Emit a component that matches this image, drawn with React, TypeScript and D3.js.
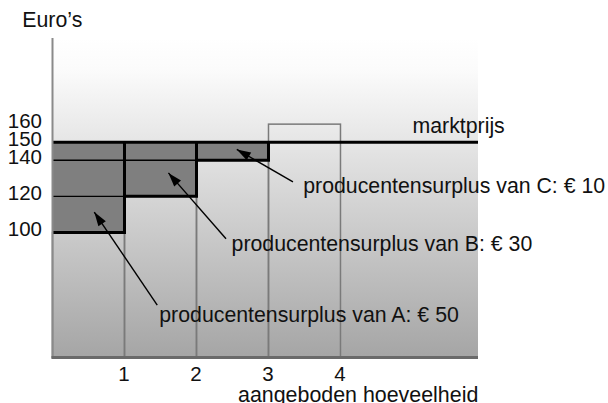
import React from "react";
import * as d3 from "d3";

// ---- data ----
const producers = ["A", "B", "C", "D"];
const costs = [100, 120, 140, 160];
const marketPrice = 150;
const yTicks = [100, 120, 140, 150, 160];
const xTicks = [1, 2, 3, 4];
const xDomain = [0, 5.91];
const yDomain = [30.5, 207.7];
// annotation anchors in data coordinates (quantity, euro)
const arrowTips = [
  [0.58, 111.3],
  [1.61, 133.0],
  [2.56, 146.0],
];
const arrowTails = [
  [1.455, 59.8],
  [2.41, 96.5],
  [3.34, 128.0],
];
const labelPos = [
  [1.483, 50.3],
  [2.487, 89.9],
  [3.483, 122.0],
];
const marketLabelPos = [5.0, 155.0];

const W = 608;
const H = 403;
const FONT = "'Liberation Sans', Arial, Helvetica, sans-serif";

export default function App() {
  const x = d3.scaleLinear().domain(xDomain).range([52.5, 478]);
  const y = d3.scaleLinear().domain(yDomain).range([358, 38]);
  const x0 = x(xDomain[0]);
  const x1 = x(xDomain[1]);
  const yBottom = y(yDomain[0]);
  const yTop = y(yDomain[1]);

  const surplusIdx = costs.map((c, i) => i).filter((i) => costs[i] < marketPrice);

  const arrowHead = (tip: number[], tail: number[]) => {
    const tx = x(tip[0]), ty = y(tip[1]);
    const sx = x(tail[0]), sy = y(tail[1]);
    const dx = sx - tx, dy = sy - ty;
    const len = Math.hypot(dx, dy);
    const ux = dx / len, uy = dy / len;
    const L = 14, Wd = 4.5;
    const bx = tx + ux * L, by = ty + uy * L;
    const px = -uy, py = ux;
    return `M${tx},${ty}L${bx + px * Wd},${by + py * Wd}L${bx - px * Wd},${by - py * Wd}Z`;
  };

  return (
    <svg width={W} height={H} style={{ position: "absolute", left: 0, top: 0 }} fontFamily={FONT}>
      <defs>
        <linearGradient id="bg" x1="0" y1="0" x2="0" y2="1">
          <stop offset="0" stopColor="#ffffff" />
          <stop offset="0.1" stopColor="#fbfbfb" />
          <stop offset="0.32" stopColor="#e6e6e6" />
          <stop offset="1" stopColor="#a5a5a5" />
        </linearGradient>
      </defs>
      <rect x={0} y={0} width={W} height={H} fill="#fff" />
      <rect x={x0} y={yTop} width={x1 - x0} height={yBottom - yTop} fill="url(#bg)" />

      {/* surplus areas */}
      {surplusIdx.map((i) => (
        <rect
          key={"s" + i}
          x={x(i)}
          y={y(marketPrice)}
          width={x(i + 1) - x(i)}
          height={y(costs[i]) - y(marketPrice)}
          fill="#7f7f7f"
        />
      ))}

      {/* supply bars outline (gray) */}
      {costs.map((c, i) => (
        <rect
          key={"b" + i}
          x={x(i)}
          y={y(c)}
          width={x(i + 1) - x(i)}
          height={yBottom - y(c)}
          fill="none"
          stroke="#7a7a7a"
          strokeWidth={1.5}
        />
      ))}

      {/* thin cost lines back to axis */}
      {surplusIdx
        .filter((i) => i > 0)
        .map((i) => (
          <line
            key={"t" + i}
            x1={x0}
            x2={x(i)}
            y1={y(costs[i])}
            y2={y(costs[i])}
            stroke="#000"
            strokeWidth={1.3}
          />
        ))}

      {/* thick supply steps */}
      {surplusIdx.map((i) => (
        <path
          key={"p" + i}
          d={`M${x(i)},${y(costs[i])}H${x(i + 1)}V${y(marketPrice)}`}
          fill="none"
          stroke="#000"
          strokeWidth={3}
        />
      ))}

      {/* market price line */}
      <line x1={x0} x2={x1} y1={y(marketPrice)} y2={y(marketPrice)} stroke="#000" strokeWidth={3} />

      {/* axes */}
      <line x1={x0} x2={x0} y1={yTop} y2={yBottom} stroke="#8a8a8a" strokeWidth={2} />
      <line x1={x0 - 1} x2={x1} y1={yBottom - 0.5} y2={yBottom - 0.5} stroke="#6a6a6a" strokeWidth={3} />

      {/* y tick labels */}
      {yTicks.map((t) => (
        <text key={"yt" + t} x={42} y={y(t) + 4} textAnchor="end" fontSize={20.5} fill="#111">
          {t}
        </text>
      ))}

      {/* x tick labels */}
      {xTicks.map((t) => (
        <text key={"xt" + t} x={x(t) - 0.5} y={381} textAnchor="middle" fontSize={20.5} fill="#111">
          {t}
        </text>
      ))}

      <text x={22.3} y={26.5} fontSize={21.3} fill="#111">Euro’s</text>
      <text x={238} y={401.5} fontSize={21.4} fill="#111">aangeboden hoeveelheid</text>

      {/* annotations */}
      {surplusIdx.map((i) => (
        <g key={"a" + i}>
          <line
            x1={x(arrowTails[i][0])}
            y1={y(arrowTails[i][1])}
            x2={x(arrowTips[i][0])}
            y2={y(arrowTips[i][1])}
            stroke="#000"
            strokeWidth={1.4}
          />
          <path d={arrowHead(arrowTips[i], arrowTails[i])} fill="#000" />
          <text x={x(labelPos[i][0])} y={y(labelPos[i][1])} fontSize={21.3} fill="#111">
            {`producentensurplus van ${producers[i]}: € ${marketPrice - costs[i]}`}
          </text>
        </g>
      ))}

      <text x={x(marketLabelPos[0])} y={y(marketLabelPos[1])} fontSize={21.3} fill="#111">
        marktprijs
      </text>
    </svg>
  );
}
